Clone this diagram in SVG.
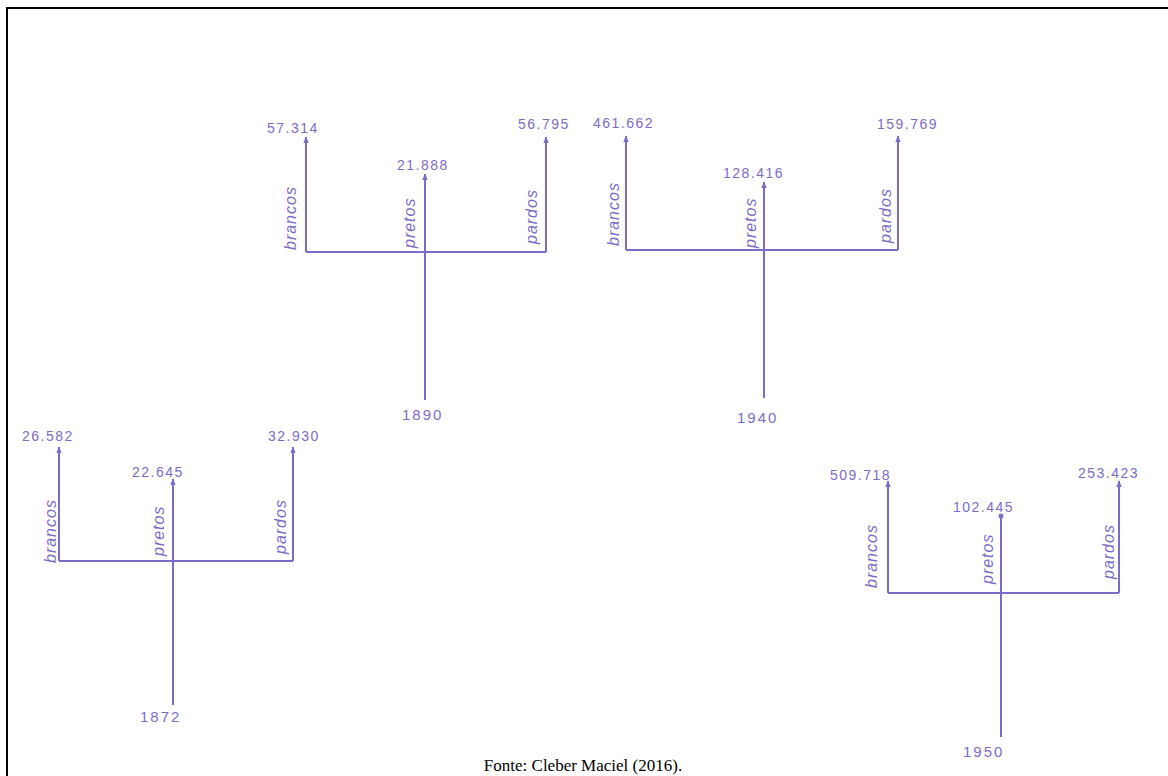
<svg xmlns="http://www.w3.org/2000/svg" width="1168" height="776" viewBox="0 0 1168 776">
<style>
.ln{stroke:#7c6cc8;stroke-width:2;fill:none}
.ar{marker-end:url(#ah)}
.num{font-family:"Liberation Sans",Arial,sans-serif;font-size:14px;fill:#7c6cc8;letter-spacing:1.5px}
.cat{font-family:"Liberation Sans",Arial,sans-serif;font-size:16px;fill:#7c6cc8;font-style:italic;letter-spacing:1px}
.yr{font-family:"Liberation Sans",Arial,sans-serif;font-size:15px;fill:#7c6cc8;letter-spacing:2px}
.cap{font-family:"Liberation Serif","Times New Roman",serif;font-size:17px;fill:#000}
</style>
<defs>
<marker id="ah" viewBox="0 0 10 10" refX="9" refY="5" markerWidth="7" markerHeight="7" orient="auto" markerUnits="userSpaceOnUse">
<path d="M0,1 L10,5 L0,9 Z" fill="#7c6cc8"/>
</marker>
</defs>
<rect width="1168" height="776" fill="#fff"/>
<path d="M7,776 V8 H1168" stroke="#000" stroke-width="2" fill="none"/>

<g id="connectors">
<!-- 1890 -->
<path class="ln" d="M306,252 H546"/>
<path class="ln ar" d="M306,252 V137"/>
<path class="ln ar" d="M546,252 V137"/>
<path class="ln ar" d="M425,400 V174"/>
<!-- 1940 -->
<path class="ln" d="M626,250 H898"/>
<path class="ln ar" d="M626,250 V136"/>
<path class="ln ar" d="M898,250 V136"/>
<path class="ln ar" d="M764,398 V182"/>
<!-- 1872 -->
<path class="ln" d="M59,561 H293"/>
<path class="ln ar" d="M59,561 V447"/>
<path class="ln ar" d="M293,561 V447"/>
<path class="ln ar" d="M173,705 V479"/>
<!-- 1950 -->
<path class="ln" d="M888,593 H1119"/>
<path class="ln ar" d="M888,593 V481"/>
<path class="ln ar" d="M1119,593 V481"/>
<path class="ln" d="M1001,737 V517"/>
<circle cx="1001" cy="516" r="2.5" fill="#7c6cc8"/>
</g>

<g id="tree-1890">
<text class="num" x="267" y="133">57.314</text>
<text class="num" x="397" y="170">21.888</text>
<text class="num" x="518" y="129">56.795</text>
<text class="cat" transform="translate(296,250) rotate(-90)">brancos</text>
<text class="cat" transform="translate(415,248) rotate(-90)">pretos</text>
<text class="cat" transform="translate(537,244) rotate(-90)">pardos</text>
<text class="yr" x="402" y="420">1890</text>
</g>

<g id="tree-1940">
<text class="num" x="593" y="128">461.662</text>
<text class="num" x="723" y="178">128.416</text>
<text class="num" x="877" y="129">159.769</text>
<text class="cat" transform="translate(619,246) rotate(-90)">brancos</text>
<text class="cat" transform="translate(756,248) rotate(-90)">pretos</text>
<text class="cat" transform="translate(891,243) rotate(-90)">pardos</text>
<text class="yr" x="737" y="423">1940</text>
</g>

<g id="tree-1872">
<text class="num" x="22" y="441">26.582</text>
<text class="num" x="132" y="477">22.645</text>
<text class="num" x="268" y="441">32.930</text>
<text class="cat" transform="translate(56,563) rotate(-90)">brancos</text>
<text class="cat" transform="translate(164,556) rotate(-90)">pretos</text>
<text class="cat" transform="translate(286,554) rotate(-90)">pardos</text>
<text class="yr" x="140" y="722">1872</text>
</g>

<g id="tree-1950">
<text class="num" x="830" y="480">509.718</text>
<text class="num" x="953" y="512">102.445</text>
<text class="num" x="1078" y="478">253.423</text>
<text class="cat" transform="translate(877,588) rotate(-90)">brancos</text>
<text class="cat" transform="translate(993,584) rotate(-90)">pretos</text>
<text class="cat" transform="translate(1114,579) rotate(-90)">pardos</text>
<text class="yr" x="963" y="757">1950</text>
</g>

<text class="cap" x="583" y="771" text-anchor="middle">Fonte: Cleber Maciel (2016).</text>
</svg>
